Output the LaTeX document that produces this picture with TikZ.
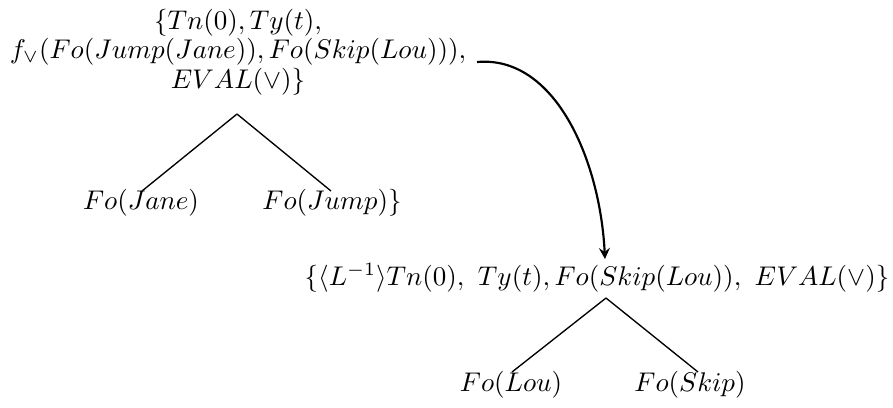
\documentclass[tikz,border=0pt]{standalone}
\usepackage{amsmath}
\begin{document}
\begin{tikzpicture}[x=0.37pt,y=-0.37pt,
  lab/.style={inner sep=0pt, anchor=center},
  branch/.style={line width=0.5pt},
  link/.style={thick,->,>=stealth}]
\useasboundingbox (0,0) rectangle (893,407);
\node[lab, align=center] (top) at (238,52) {$\{Tn(0),Ty(t),$\\[-1pt]$f_{\vee}(Fo(Jump(Jane)),Fo(Skip(Lou))),$\\[-1pt]$EVAL(\vee)\}$};
\coordinate (a1) at (237,114);
\node[lab] (jane) at (141,203) {$Fo(Jane)$};
\node[lab] (jump) at (332,203) {$Fo(Jump)\}$};
\draw[branch] (a1) -- (142,191);
\draw[branch] (a1) -- (331,191);
\node[lab] (bot) at (597,278) {$\{\langle L^{-1}\rangle Tn(0),\ Ty(t),Fo(Skip(Lou)),\ EVAL(\vee)\}$};
\coordinate (a2) at (606,298);
\node[lab] (lou) at (511,385) {$Fo(Lou)$};
\node[lab] (skip) at (690,385) {$Fo(Skip)$};
\draw[branch] (a2) -- (512,372);
\draw[branch] (a2) -- (698,372);
\coordinate (s) at (477,62);
\coordinate (e) at (605,259);
\draw[link] (s) .. controls (555,55) and (600,160) .. (e);
\end{tikzpicture}
\end{document}
